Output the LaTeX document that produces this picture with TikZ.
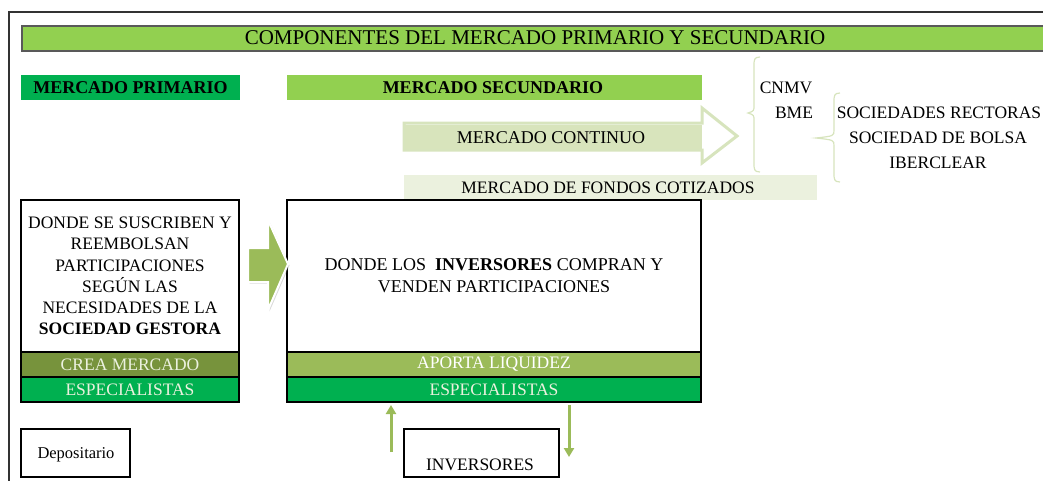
\documentclass[tikz,border=0pt]{standalone}
\usepackage{fontspec}
\setmainfont{Liberation Serif}
\usetikzlibrary{positioning,arrows.meta,shadows}
\definecolor{verdeclaro}{HTML}{92D050}
\definecolor{verde}{HTML}{00B050}
\definecolor{oliva}{HTML}{77933C}
\definecolor{olivaclaro}{HTML}{9BBB59}
\definecolor{palido}{HTML}{EBF1DE}
\definecolor{palidoB}{HTML}{D8E4BC}
\definecolor{borde}{HTML}{D7E4BD}
\tikzset{
barra/.style={anchor=north west, inner sep=0pt, outer sep=0pt, minimum height=25pt},
caja/.style={draw=black, line width=1.5pt, anchor=north west, inner sep=0pt, outer sep=0pt, align=center},
banda/.style={draw=black, line width=1.5pt, inner sep=0pt, outer sep=0pt, minimum width=218pt, minimum height=25pt, text=palido},
texto/.style={inner sep=0pt},
llave/.style={draw=borde, line width=1.2pt},
flecha/.style={draw=olivaclaro, line width=3pt, -{Triangle[length=9pt,width=10pt]}}
}

\begin{document}
\begin{tikzpicture}[x=1pt,y=-1pt,font=\fontsize{17.5}{21}\selectfont]
\useasboundingbox (0,0) rectangle (1043,480);
\draw[line width=2pt, black!80] (9,485) -- (9,12) -- (1050,12);

\node[barra, fill=verdeclaro, draw=black!65, line width=1.2pt, minimum width=1030pt] (titulo) at (22,26) {};
\node[texto, font=\fontsize{21}{24}\selectfont] at (535,38) {COMPONENTES DEL MERCADO PRIMARIO Y SECUNDARIO};

\node[barra, fill=verde, minimum width=219pt] (primario) at (21,75) {};
\node[texto, font=\fontsize{18}{21}\selectfont\bfseries] at (primario.center) {MERCADO PRIMARIO};
\node[barra, fill=verdeclaro, minimum width=415pt] (secundario) at (287,75) {};
\node[texto, font=\fontsize{18}{21}\selectfont\bfseries] at (493,88) {MERCADO SECUNDARIO};

% flecha del mercado continuo
\draw[draw=borde, line width=3pt, fill=white, line join=miter]
  (404,123) -- (702,123) -- (702,108) -- (737,136) -- (702,163) -- (702,150) -- (404,150) -- cycle;
\fill[palidoB] (405,124.5) rectangle (702,148.5);
\node[texto, font=\fontsize{18}{21}\selectfont] (continuo) at (551,138) {MERCADO CONTINUO};

\node[barra, fill=palido, minimum width=413pt] (fondos) at (404,175) {};
\node[texto] at (608,188) {MERCADO DE FONDOS COTIZADOS};

% llaves
\draw[llave] (760,57) .. controls (754,57) and (754,60) .. (754,66) -- (754,105)
  .. controls (754,111) .. (748,113) .. controls (754,115) .. (754,121) -- (754,163)
  .. controls (754,169) and (754,172) .. (760,172);
\node[texto] (cnmv) at (786,88) {CNMV};
\node[texto] (bme) at (794,113) {BME};
\draw[llave] (840,93) .. controls (834,93) and (834,96) .. (834,102) -- (834,130)
  .. controls (834,136) .. (816,138) .. controls (834,140) .. (834,146) -- (834,173)
  .. controls (834,179) and (834,182) .. (840,182);
\node[texto] (rectoras) at (939,113) {SOCIEDADES RECTORAS};
\node[texto] (bolsa) at (938,138) {SOCIEDAD DE BOLSA};
\node[texto] (iberclear) at (938,163) {IBERCLEAR};

% mercado primario
\node[caja, minimum width=218pt, minimum height=152pt, font=\fontsize{17.5}{21.2}\selectfont] (suscriben) at (21,200)
  {DONDE SE SUSCRIBEN Y\\REEMBOLSAN\\PARTICIPACIONES\\SEGÚN LAS\\NECESIDADES DE LA\\\textbf{SOCIEDAD GESTORA}};
\node[banda, fill=oliva, below=0pt of suscriben] (crea) {CREA MERCADO};
\node[banda, fill=verde, below=0pt of crea] (espec1) {ESPECIALISTAS};

% mercado secundario
\node[caja, minimum width=414pt, minimum height=152pt, font=\fontsize{18}{22}\selectfont] (compran) at (287,200)
  {DONDE LOS\ \ \textbf{INVERSORES} COMPRAN Y\\VENDEN PARTICIPACIONES};
\node[banda, fill=olivaclaro, minimum width=414pt, below=0pt of compran, text=white] (aporta) {APORTA LIQUIDEZ};
\node[banda, fill=verde, minimum width=414pt, below=0pt of aporta] (espec2) {ESPECIALISTAS};

% flecha entre mercados
\draw[fill=olivaclaro, draw=white, line width=2pt, line join=miter, drop shadow={opacity=0.3,shadow xshift=1.5pt,shadow yshift=-1.5pt}]
  (248,248) -- (268,248) -- (268,220) -- (288,264) -- (268,310) -- (268,282) -- (248,282) -- cycle;

\node[caja, minimum width=109pt, minimum height=48pt] (depositario) at (21,429) {};
\node[texto, font=\fontsize{16.5}{20}\selectfont] at (76,455) {Depositario};
\node[caja, minimum width=155pt, minimum height=48pt] (inversores) at (404,429) {};
\node[texto] at (480,465) {INVERSORES};

\coordinate (subeA) at (391,452);
\coordinate (bajaB) at (569,457);
\coordinate (subeB) at (subeA|-espec2.south);
\coordinate (bajaA) at (bajaB|-espec2.south);
\draw[flecha] (subeA) -- ([yshift=-3pt]subeB);
\draw[flecha] ([yshift=-3pt]bajaA) -- (bajaB);
\end{tikzpicture}
\end{document}
